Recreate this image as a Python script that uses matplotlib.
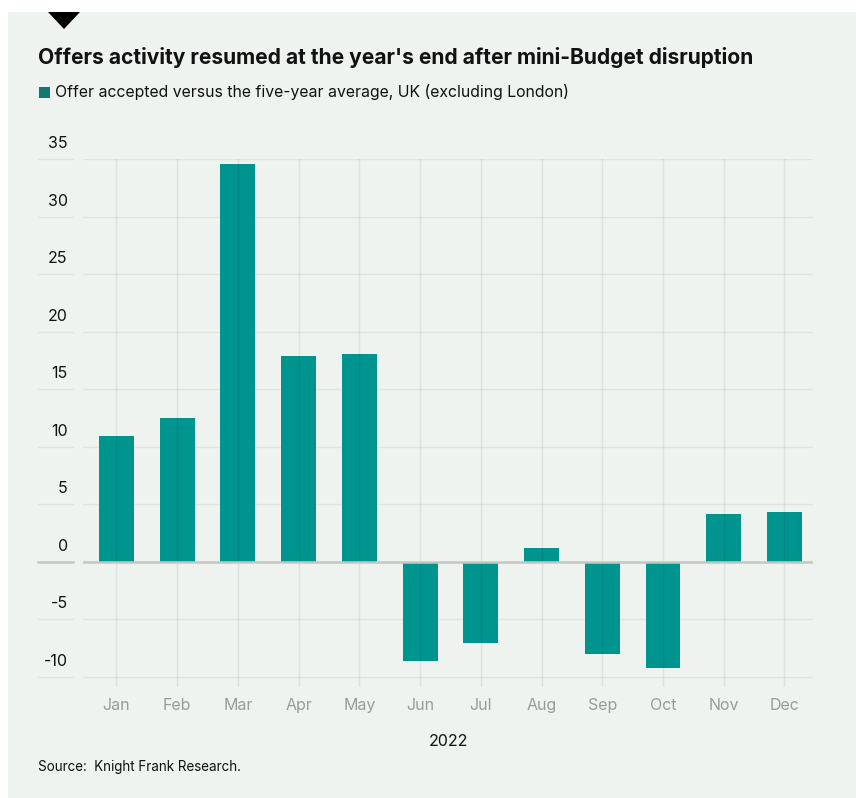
import matplotlib.pyplot as plt
import matplotlib.transforms as mtransforms
from matplotlib.patches import Rectangle, Polygon

months = ["Jan", "Feb", "Mar", "Apr", "May", "Jun",
          "Jul", "Aug", "Sep", "Oct", "Nov", "Dec"]
offers_vs_avg = [10.9, 12.5, 34.6, 17.9, 18.1, -8.6,
                 -7.1, 1.2, -8.0, -9.25, 4.15, 4.3]
y_ticks = [35, 30, 25, 20, 15, 10, 5, 0, -5, -10]

TEAL = "#00948f"
PANEL = "#eff3f0"
GRID = "#e1e5e1"
ZERO = "#c5c7c5"

plt.rcParams["font.family"] = ["Inter", "DejaVu Sans"]

W, H = 856, 798
fig = plt.figure(figsize=(W / 100, H / 100), dpi=100, facecolor="white")

# light panel and the little black marker at its top edge
fig.patches.append(Rectangle((8 / W, 0), 1, 1 - 12 / H, transform=fig.transFigure,
                             facecolor=PANEL, edgecolor="none", zorder=-10))
fig.patches.append(Polygon([(48 / W, 1 - 12 / H), (80 / W, 1 - 12 / H), (64 / W, 1 - 29 / H)],
                           closed=True, transform=fig.transFigure,
                           facecolor="black", edgecolor="none"))

ax = fig.add_axes([83 / W, 1 - 686.7 / H, (813 - 83) / W, (686.7 - 159.3) / H])
ax.set_facecolor(PANEL)
for s in ax.spines.values():
    s.set_visible(False)

x = range(len(months))
ax.bar(x, offers_vs_avg, width=0.575, color=TEAL, zorder=2)
for xi in x:
    ax.axvline(xi, color="black", alpha=0.07, lw=1, zorder=3)
for yv in y_ticks:
    if yv == 0:
        continue
    ax.axhline(yv, color=GRID, lw=1, zorder=1)
ax.axhline(0, color=ZERO, lw=1.8, zorder=4)
# gridline stubs under the y labels
ytr = ax.get_yaxis_transform()
for yv in y_ticks:
    ax.plot([-0.0616, -0.0137], [yv, yv], transform=ytr, clip_on=False,
            color=ZERO if yv == 0 else GRID, lw=1.8 if yv == 0 else 1)

ax.set_xlim(-0.55, 11.47)
ax.set_ylim(-10.87, 35)
ax.set_xticks(list(x))
ax.set_xticklabels(months, color="#9a9a9a", fontsize=11.5)
ax.set_yticks(y_ticks)
ax.set_yticklabels([str(v) for v in y_ticks], fontsize=11.5, color="#111111")
ax.tick_params(axis="both", length=0)
ax.tick_params(axis="x", pad=8)
ax.tick_params(axis="y", pad=11)
off = mtransforms.ScaledTranslation(0, 17 / 100, fig.dpi_scale_trans)
for lab in ax.get_yticklabels():
    lab.set_transform(lab.get_transform() + off)

fig.text(448 / W, 1 - 741 / H, "2022", ha="center", va="center", fontsize=11.5,
         color="#111111")
fig.text(38 / W, 1 - 57 / H, "Offers activity resumed at the year's end after mini-Budget disruption",
         ha="left", va="center", fontsize=15.1, fontweight="bold", color="#111111")
fig.patches.append(Rectangle((39 / W, 1 - 98 / H), 11 / W, 11 / H, transform=fig.transFigure,
                             facecolor="#0e7a72", edgecolor="none"))
fig.text(55 / W, 1 - 92.5 / H, "Offer accepted versus the five-year average, UK (excluding London)",
         ha="left", va="center", fontsize=11.4, color="#111111")
fig.text(38 / W, 1 - 767 / H, "Source:  Knight Frank Research.", ha="left", va="center",
         fontsize=9.7, color="#111111")

fig.savefig("out.png", dpi=100, facecolor="white")
